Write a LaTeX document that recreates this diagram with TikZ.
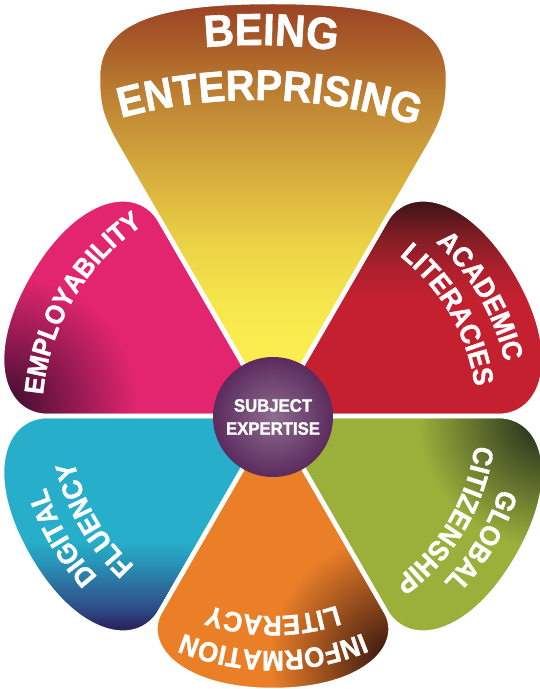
\documentclass[tikz,border=0pt]{standalone}
\usepackage{fontspec}
\newfontfamily\labfont{Liberation Sans}[FakeStretch=0.93, BoldFeatures={FakeBold=1.4}]
\usetikzlibrary{calc,decorations.text}

\definecolor{pinkbase}{HTML}{E3256F}
\definecolor{pinkdark}{HTML}{3E0E30}
\definecolor{bluebase}{HTML}{27AECB}
\definecolor{bB}{HTML}{2797B9}
\definecolor{bC}{HTML}{2C6C9C}
\definecolor{bD}{HTML}{2D4F88}
\definecolor{bE}{HTML}{29235F}
\definecolor{orangebase}{HTML}{EA7F28}
\definecolor{orangedark}{HTML}{2E100E}
\definecolor{greenbase}{HTML}{9BAF3B}
\definecolor{greendark}{HTML}{18221A}
\definecolor{redbase}{HTML}{C4202F}
\definecolor{rB}{HTML}{B2202D}
\definecolor{rC}{HTML}{861E25}
\definecolor{reddark}{HTML}{3E1518}
\definecolor{purpbase}{HTML}{5B2B5D}
\definecolor{purplight}{HTML}{8D6C8F}
\definecolor{yA}{HTML}{F9EE50}
\definecolor{yB}{HTML}{F9EC4E}
\definecolor{yC}{HTML}{F5E54B}
\definecolor{yD}{HTML}{EDD545}
\definecolor{yE}{HTML}{DFBB40}
\definecolor{yF}{HTML}{CFA03A}
\definecolor{yG}{HTML}{BF8534}
\definecolor{yH}{HTML}{AC6229}
\definecolor{yI}{HTML}{9C4424}

\pgfdeclareverticalshading{yshade}{100bp}{color(0bp)=(yA); color(27bp)=(yA); color(35bp)=(yB); color(39bp)=(yC); color(45bp)=(yD); color(51bp)=(yE); color(57bp)=(yF); color(63bp)=(yG); color(69bp)=(yH); color(74.5bp)=(yI); color(100bp)=(yI)}
\pgfdeclareverticalshading{rshade}{100bp}{color(0bp)=(redbase); color(52bp)=(redbase); color(58bp)=(rB); color(66bp)=(rC); color(74.5bp)=(reddark); color(100bp)=(reddark)}
\pgfdeclareverticalshading{bshade}{100bp}{color(0bp)=(bE); color(25.8bp)=(bE); color(30.5bp)=(bD); color(35.2bp)=(bC); color(41.4bp)=(bB); color(46bp)=(bluebase); color(100bp)=(bluebase)}

% petals in local coordinates: apex at the origin, axis along +x
\newcommand\sidepetal{(0,0) -- (194.9,112.5) .. controls (233.9,135) and (282,95) .. (282,0) .. controls (282,-95) and (233.9,-135) .. (194.9,-112.5) -- cycle}
\newcommand\botpetal{(0,0) -- (194.9,112.5) .. controls (230,132.7) and (274,92) .. (274,0) .. controls (274,-92) and (230,-132.7) .. (194.9,-112.5) -- cycle}
\newcommand\toppetal{(O) -- (118,541.5) .. controls (100.5,571.8) and (98,584) .. (98,612) .. controls (98,674) and (171,687) .. (273,687) .. controls (375,687) and (448,674) .. (448,612) .. controls (448,584) and (445.5,571.8) .. (428,541.5) -- cycle}
\newcommand\arclabel[4]{\path[decorate, decoration={text along path, text align=center, text color=white, text={|\labfont\bfseries\fontsize{#3}{#3}\selectfont|#4}}] ($(O)+(#1+70:#2pt)$) arc[start angle=#1+70, end angle=#1-70, radius=#2pt];}

\tikzset{
  gapline/.style={draw=white, line width=4.5pt, line join=round},
  at red/.style={shift={(O)}, rotate=30},
  at green/.style={shift={(O)}, rotate=-30},
  at orange/.style={shift={(O)}, rotate=-90},
  at blue/.style={shift={(O)}, rotate=210},
  at pink/.style={shift={(O)}, rotate=150},
  core/.style={circle, inner sep=0pt, minimum size=120pt, inner color=purplight, outer color=purpbase, text=white, align=center, font=\labfont\bfseries\fontsize{18}{23}\selectfont}
}

\begin{document}
\begin{tikzpicture}[x=1pt,y=1pt]
\useasboundingbox (0,0) rectangle (540,689);
\fill[white] (0,0) rectangle (540,689);
\coordinate (O) at (273,273);
\coordinate (TC) at (256,74);

% top petal
\shade[shading=yshade] \toppetal;
% red petal
\begin{scope}
  \clip[at red] \sidepetal;
  \shade[shading=rshade] (265,273) rectangle (545,489);
\end{scope}
% green petal
\fill[greenbase, at green] \sidepetal;
\begin{scope}
  \clip[at green] \sidepetal;
  \shade[inner color=greendark, outer color=greenbase] (548,271) circle[radius=130pt];
\end{scope}
% orange petal
\fill[orangebase, at orange] \botpetal;
\begin{scope}
  \clip[at orange] \botpetal;
  \shade[inner color=orangedark, outer color=orangebase] (394,29) circle[radius=125pt];
\end{scope}
% blue petal
\begin{scope}
  \clip[at blue] \sidepetal;
  \shade[shading=bshade] (0,58) rectangle (280,273);
\end{scope}
% pink petal
\fill[pinkbase, at pink] \sidepetal;
\begin{scope}
  \clip[at pink] \sidepetal;
  \shade[inner color=pinkdark, outer color=pinkbase] (8,284) circle[radius=130pt];
\end{scope}

% white gaps
\draw[gapline] \toppetal;
\draw[gapline, at red] \sidepetal;
\draw[gapline, at green] \sidepetal;
\draw[gapline, at orange] \botpetal;
\draw[gapline, at blue] \sidepetal;
\draw[gapline, at pink] \sidepetal;

% centre
\node[core] (core) at (273,272) {SUBJECT\\EXPERTISE};

% labels
\path[decorate, decoration={text along path, text align=center, text color=white, text={|\labfont\bfseries\fontsize{45}{45}\selectfont|BEING}}] ($(TC)+(108.5:570pt)$) arc[start angle=108.5, end angle=68.5, radius=570pt];
\path[decorate, decoration={text along path, text align=center, text color=white, text={|\labfont\bfseries\fontsize{43}{43}\selectfont|ENTERPRISING}}] ($(TC)+(113.5:515pt)$) arc[start angle=113.5, end angle=63.5, radius=515pt];
\arclabel{30}{238}{28}{ACADEMIC}
\arclabel{30}{204}{28}{LITERACIES}
\arclabel{-31}{238}{28}{GLOBAL}
\arclabel{-31}{204}{28}{CITIZENSHIP}
\arclabel{-90}{235}{28}{INFORMATION}
\arclabel{-90}{200}{28}{LITERACY}
\arclabel{210}{238}{28}{DIGITAL}
\arclabel{210}{204}{28}{FLUENCY}
\arclabel{149.5}{231}{27}{EMPLOYABILITY}
\end{tikzpicture}
\end{document}
